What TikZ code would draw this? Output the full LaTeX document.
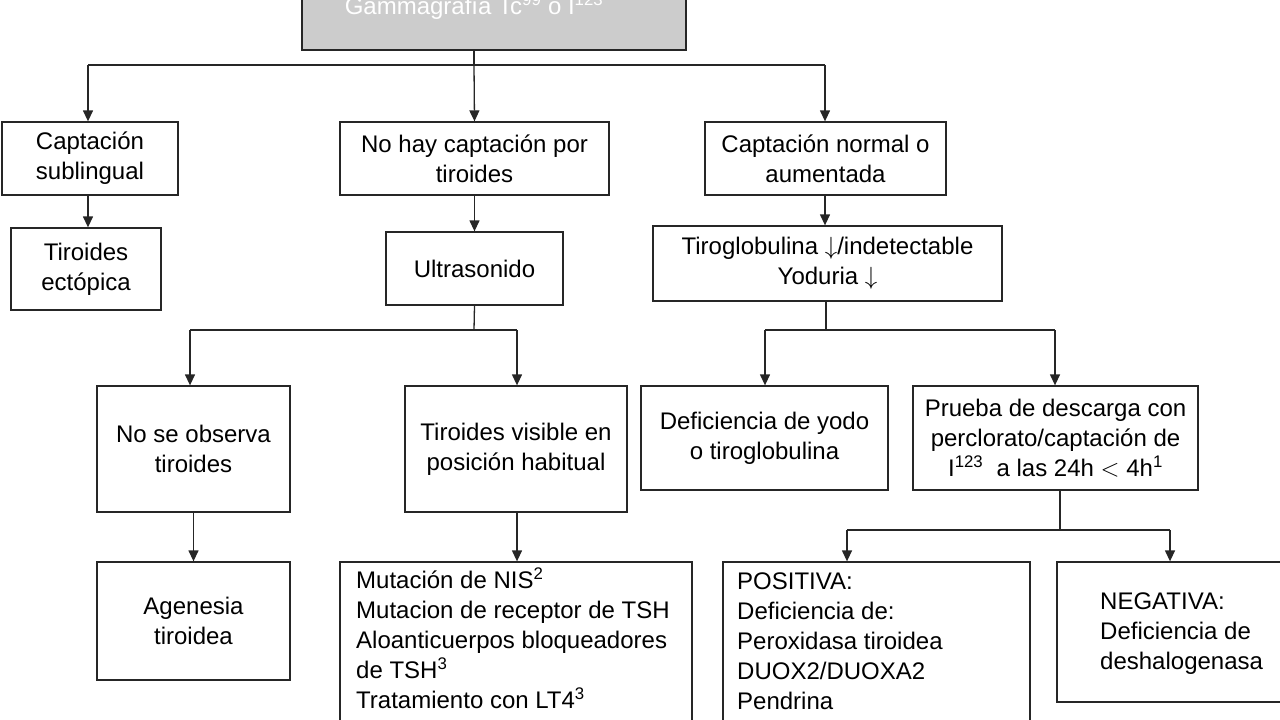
\documentclass[tikz,border=0pt]{standalone}
\usepackage{fontspec}
\setmainfont{Liberation Sans}
\usetikzlibrary{arrows.meta}
\begin{document}
\begin{tikzpicture}[x=1pt,y=-1pt,
  fnt/.style={font=\fontsize{24}{30}\selectfont},
  bx/.style={draw=black!85,line width=1.3pt,inner sep=0pt,fnt,align=center},
  ar/.style={line width=1.3pt,draw=black!85,-{Triangle[length=11pt,width=10pt]}},
  ln/.style={line width=1.3pt,draw=black!85}]
\useasboundingbox (0,0) rectangle (1280,720);
\begin{scope}
\clip (0,0) rectangle (1280,720);
\node[bx,fill=black!20,text=white,minimum width=384pt,minimum height=100pt] (top) at (494,0) {};
\node[text=white,fnt] (tt) at (474,7) {Gammagrafía Tc$^{\mathrm{99}}$ o I$^{\mathrm{123}}$};
\node[bx,minimum width=176pt,minimum height=73pt] (b1) at (90,158.5) {Captación\\sublingual};
\node[bx,minimum width=150pt,minimum height=82pt] (b2) at (86,269) {Tiroides\\ectópica};
\node[bx,minimum width=269pt,minimum height=73pt] (b3) at (474.5,158.5) {No hay captación por\\tiroides};
\node[bx,minimum width=177pt,minimum height=73pt] (us) at (474.5,268.5) {Ultrasonido};
\node[bx,minimum width=241pt,minimum height=73pt] (b4) at (825.5,158.5) {Captación normal o\\aumentada};
\node[bx,minimum width=349pt,minimum height=75pt] (tg) at (827.5,263.5) {Tiroglobulina $\downarrow$/indetectable\\Yoduria $\downarrow$};
\node[bx,minimum width=193pt,minimum height=126pt] (no) at (193.5,449) {No se observa\\tiroides};
\node[bx,minimum width=222pt,minimum height=126pt] (vi) at (516,449) {Tiroides visible en\\posición habitual};
\node[bx,minimum width=247pt,minimum height=104pt] (dy) at (764.5,438) {Deficiencia de yodo\\o tiroglobulina};
\node[bx,minimum width=285pt,minimum height=104pt] (pr) at (1055.5,438) {Prueba de descarga con\\perclorato/captación de\\I$^{\mathrm{123}}$\ \ a las 24h $<$ 4h$^{\mathrm{1}}$};
\node[bx,minimum width=193pt,minimum height=118pt] (ag) at (193.5,621) {Agenesia\\tiroidea};
\node[bx,minimum width=352pt,minimum height=200pt] (mu) at (516,662) {};
\node[fnt,align=left,anchor=north west,inner sep=0pt] (mut) at (356,568) {Mutación de NIS$^{\mathrm{2}}$\\Mutacion de receptor de TSH\\Aloanticuerpos bloqueadores\\de TSH$^{\mathrm{3}}$\\Tratamiento con LT4$^{\mathrm{3}}$};
\node[bx,minimum width=307pt,minimum height=200pt] (po) at (876.5,662) {};
\node[fnt,align=left,anchor=north west,inner sep=0pt] (pot) at (737,573) {POSITIVA:\\Deficiencia de:\\Peroxidasa tiroidea\\DUOX2/DUOXA2\\Pendrina};
\node[bx,minimum width=230pt,minimum height=140pt] (ne) at (1172,632) {};
\node[fnt,align=left,anchor=north west,inner sep=0pt] (net) at (1100,593) {NEGATIVA:\\Deficiencia de\\deshalogenasa};
\coordinate (j1) at (474,65); \coordinate (l1) at (88,65); \coordinate (r1) at (825,65);
\draw[ln] (474,50) -- (j1); \draw[ln] (l1) -- (r1);
\draw[ar] (l1) -- (b1.north -| l1);
\draw[ar] (j1) -- (b3.north);
\draw[ar] (r1) -- (b4.north -| r1);
\draw[ar] (b1.south -| 88,0) -- (b2.north -| 88,0);
\draw[ar] (b3.south) -- (us.north);
\draw[ar] (b4.south -| 825,0) -- (tg.north -| 825,0);
\coordinate (j2) at (474,330); \coordinate (l2) at (190,330); \coordinate (r2) at (517,330);
\draw[ln] (us.south) -- (j2); \draw[ln] (l2) -- (r2);
\draw[ar] (l2) -- (no.north -| l2); \draw[ar] (r2) -- (vi.north -| r2);
\coordinate (j3) at (826,330); \coordinate (l3) at (765,330); \coordinate (r3) at (1055,330);
\draw[ln] (tg.south -| j3) -- (j3); \draw[ln] (l3) -- (r3);
\draw[ar] (l3) -- (dy.north -| l3); \draw[ar] (r3) -- (pr.north -| r3);
\draw[ar] (no.south) -- (ag.north);
\draw[ar] (vi.south -| 517,0) -- (mu.north -| 517,0);
\coordinate (j4) at (1060,530); \coordinate (l4) at (847,530); \coordinate (r4) at (1170,530);
\draw[ln] (pr.south -| j4) -- (j4); \draw[ln] (l4) -- (r4);
\draw[ar] (l4) -- (po.north -| l4); \draw[ar] (r4) -- (ne.north -| r4);
\end{scope}
\end{tikzpicture}
\end{document}
